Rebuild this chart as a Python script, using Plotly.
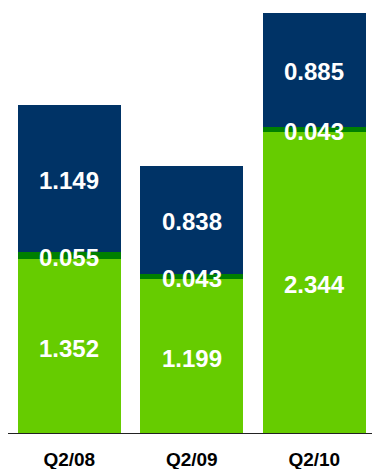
import plotly.graph_objects as go

# Quarterly stacked values
quarters = ["Q2/08", "Q2/09", "Q2/10"]
base_vals = [1.352, 1.199, 2.344]     # lime segment
mid_vals = [0.055, 0.043, 0.043]      # thin dark-green segment
top_vals = [1.149, 0.838, 0.885]      # navy segment

LIME = "#66CC00"
DGREEN = "#008000"
NAVY = "#003366"

fig = go.Figure()
for vals, color in [(base_vals, LIME), (mid_vals, DGREEN), (top_vals, NAVY)]:
    fig.add_trace(go.Bar(
        x=quarters, y=vals, marker=dict(color=color, line=dict(width=0)),
        hoverinfo="skip", showlegend=False,
    ))

# Value labels at the middle of each segment
for i, q in enumerate(quarters):
    bottom = 0.0
    for vals in (base_vals, mid_vals, top_vals):
        v = vals[i]
        fig.add_annotation(
            x=q, y=bottom + v / 2, xref="x", yref="y",
            text=f"{v:.3f}", showarrow=False,
            xanchor="center", yanchor="middle", yshift=-2,
            font=dict(family="Liberation Sans", size=24, color="white", weight="bold"),
        )
        bottom += v

fig.update_layout(
    barmode="stack",
    bargap=0.16,
    width=372, height=469,
    margin=dict(l=8, r=0, t=0, b=36, autoexpand=False),
    paper_bgcolor="white", plot_bgcolor="white",
    xaxis=dict(
        range=[-0.5, 2.471], showgrid=False, zeroline=False, automargin=False,
        showline=True, linecolor="#222222", linewidth=1,
        ticks="", ticklabelstandoff=9,
        tickfont=dict(family="Liberation Sans", size=19, color="black", weight="bold"),
    ),
    yaxis=dict(range=[0, 3.373], visible=False, showgrid=False, zeroline=False,
               automargin=False),
)

fig.write_html("out.html")
